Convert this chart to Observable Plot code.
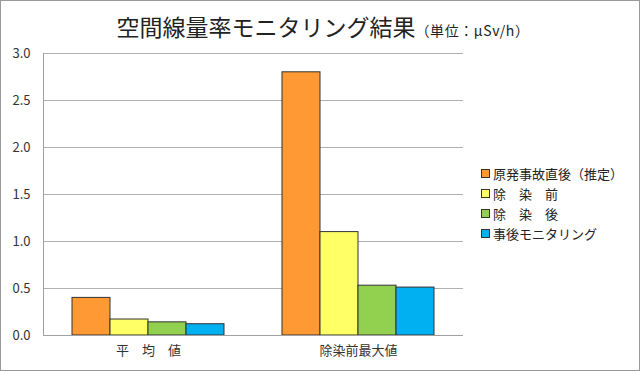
<!DOCTYPE html>
<html><head><meta charset="utf-8">
<script src="https://cdn.jsdelivr.net/npm/d3@7"></script>
<script src="https://cdn.jsdelivr.net/npm/@observablehq/plot@0.6"></script>
<style>
body{margin:0;background:#fff;font-family:"Noto Sans CJK JP",sans-serif;}
#wrap{position:relative;width:640px;height:371px;box-sizing:border-box;}
#border{position:absolute;left:0;top:0;width:640px;height:371px;box-sizing:border-box;border:1px solid #999;pointer-events:none;}
#title{position:absolute;left:0;width:640px;top:9px;text-align:center;color:#222;white-space:nowrap;padding-left:6px;box-sizing:border-box;}
#title .main{font-size:23px;}
#title .unit{font-size:14px;letter-spacing:0.6px;}
#legend{position:absolute;left:481px;top:164px;font-size:13px;color:#222;line-height:20px;}
#legend .sw{display:inline-block;width:7px;height:7px;border:1px solid #333;margin-right:3px;vertical-align:1px;}
svg{position:absolute;left:0;top:0;}
</style></head>
<body><div id="wrap"><div id="title"><span class="main">空間線量率モニタリング結果</span><span class="unit">（単位：μSv/h）</span></div><div id="legend"></div><div id="border"></div></div>
<script>
const categories = ["平　均　値", "除染前最大値"];
const seriesNames = ["原発事故直後（推定）", "除　染　前", "除　染　後", "事後モニタリング"];
const seriesColors = ["#FF9933", "#FFFF66", "#92D050", "#00B0F0"];
const valuesAverage = [0.40, 0.17, 0.14, 0.12];
const valuesMax = [2.80, 1.10, 0.53, 0.51];
const yTicks = [0, 0.5, 1.0, 1.5, 2.0, 2.5, 3.0];

const data = [];
[valuesAverage, valuesMax].forEach((vals, ci) => vals.forEach((v, si) => data.push({cat: categories[ci], series: seriesNames[si], value: v})));

const chart = Plot.plot({
  width: 640, height: 371,
  marginLeft: 43, marginRight: 177, marginTop: 53, marginBottom: 36,
  style: {fontFamily: '"Noto Sans CJK JP", sans-serif', fontSize: "13px", color: "#333", background: "transparent"},
  fx: {domain: categories, padding: 0, label: null, tickSize: 0, tickPadding: 10},
  x: {domain: seriesNames, axis: null, paddingInner: 0, paddingOuter: 0.763},
  y: {domain: [0, 3], label: null},
  color: {domain: seriesNames, range: seriesColors},
  marks: [
    Plot.gridY(yTicks, {stroke: "#b0b0b0", strokeOpacity: 1, strokeWidth: 1}),
    Plot.axisY(yTicks, {tickSize: 0, tickPadding: 13, tickFormat: d3.format(".1f"), label: null, fill: "#333"}),
    Plot.barY(data, {fx: "cat", x: "series", y: "value", fill: "series", stroke: "#333", strokeWidth: 1, insetLeft: 0, insetRight: 0}),
    Plot.ruleY([0], {stroke: "#a0a0a0"})
  ]
});
document.getElementById("wrap").insertBefore(chart, document.getElementById("title"));
// left axis line
const svg = d3.select(chart);
svg.append("line").attr("x1", 43.5).attr("x2", 43.5).attr("y1", 53).attr("y2", 335).attr("stroke", "#a0a0a0");

const lg = document.getElementById("legend");
seriesNames.forEach((n, i) => {
  const row = document.createElement("div");
  row.innerHTML = `<span class="sw" style="background:${seriesColors[i]}"></span>${n}`;
  lg.appendChild(row);
});
</script></body></html>
